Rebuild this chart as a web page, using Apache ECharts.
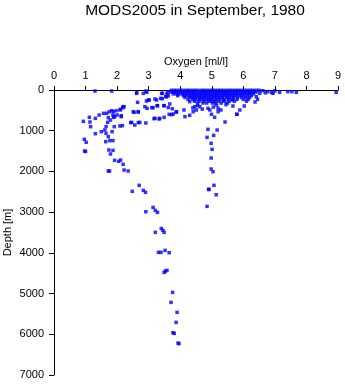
<!DOCTYPE html>
<html>
<head>
<meta charset="utf-8">
<script src="https://cdn.jsdelivr.net/npm/echarts@6/dist/echarts.min.js"></script>
<style>html,body{margin:0;padding:0;background:#fff}#chart{width:345px;height:384px}</style>
</head>
<body>
<div id="chart"></div>
<script>
// Oxygen profile observations, [oxygen ml/l, depth m]
var titleText = 'MODS2005 in September, 1980';
var xName = 'Oxygen [ml/l]';
var yName = 'Depth [m]';
var xTicks = [0, 1, 2, 3, 4, 5, 6, 7, 8, 9];
var yTicks = [0, 1000, 2000, 3000, 4000, 5000, 6000, 7000];

// surface mixed layer, rows by depth
var surfaceRows = [
  [8,   [3.72, 3.81, 3.9, 4.0, 4.09, 4.19, 4.27, 4.37, 4.46, 4.55, 4.66, 4.74, 4.83, 4.93, 5.02, 5.11, 5.21, 5.29, 5.38, 5.48, 5.57, 5.66, 5.75, 5.84, 5.94, 6.03, 6.12, 6.22, 6.31, 6.41, 6.5]],
  [50,  [3.6, 3.7, 3.79, 3.88, 3.98, 4.07, 4.16, 4.26, 4.35, 4.44, 4.53, 4.63, 4.72, 4.81, 4.91, 5.0, 5.09, 5.18, 5.28, 5.37, 5.46, 5.55, 5.65, 5.74, 5.83, 5.93, 6.02, 6.11, 6.2, 6.3, 6.4]],
  [95,  [3.58, 3.78, 3.87, 3.96, 4.06, 4.15, 4.24, 4.34, 4.43, 4.52, 4.61, 4.71, 4.8, 4.89, 4.98, 5.08, 5.17, 5.26, 5.36, 5.45, 5.54, 5.63, 5.73, 5.82, 5.91, 6.01, 6.1, 6.2, 6.32]],
  [140, [3.62, 3.92, 4.1, 4.21, 4.3, 4.4, 4.49, 4.58, 4.68, 4.77, 4.86, 4.96, 5.05, 5.14, 5.23, 5.33, 5.42, 5.51, 5.61, 5.7, 5.79, 5.9, 6.0, 6.12, 6.25]],
  [185, [4.15, 4.3, 4.39, 4.48, 4.6, 4.69, 4.78, 4.88, 4.97, 5.06, 5.16, 5.25, 5.34, 5.47, 5.56, 5.68, 5.82, 5.95, 6.08, 6.2]],
  [230, [4.25, 4.4, 4.5, 4.62, 4.72, 4.83, 4.92, 5.01, 5.13, 5.24, 5.38, 5.52, 5.66, 5.8, 6.0, 6.15]],
  [275, [4.45, 4.6, 4.75, 4.9, 4.99, 5.1, 5.22, 5.4, 5.55, 5.72, 6.1]],
  [320, [4.55, 4.72, 4.84, 5.02, 5.12, 5.3, 5.5]]
];

// scattered upper-ocean casts
var upperPoints = [
  [1.3, 25], [1.83, 25], [2.62, 57], [2.94, 57], [2.62, 82], [2.83, 82], [2.91, 25],
  [2.65, 303], [2.93, 270], [2.99, 246], [3.02, 246], [3.2, 221], [3.38, 205], [3.44, 82],
  [3.57, 164], [3.41, 82], [3.54, 164], [3.43, 213], [3.25, 246], [2.95, 451], [3.14, 434],
  [3.28, 385], [3.48, 385], [3.67, 344], [3.27, 385], [3.49, 385],
  [2.18, 434], [2.22, 410], [2.09, 491], [1.88, 533], [1.67, 573], [1.72, 680], [1.92, 655],
  [2.13, 655], [2.51, 533], [2.67, 533], [2.88, 410], [3.1, 434], [2.46, 795], [2.72, 795],
  [3.2, 696], [3.35, 696], [2.09, 884], [2.17, 876], [2.43, 801], [2.56, 860], [2.67, 801],
  [2.54, 548], [2.67, 540], [2.91, 810], [3.17, 704], [3.33, 713], [3.49, 671], [3.65, 597],
  [3.72, 606], [3.78, 590], [3.88, 540], [3.88, 533], [4.12, 491], [4.15, 655], [4.3, 622],
  [4.41, 533], [4.3, 287], [4.46, 410], [4.51, 491], [4.62, 410], [4.88, 451], [5.15, 369],
  [5.36, 246], [5.65, 246], [3.62, 430], [3.75, 460], [4.55, 380], [4.7, 470], [5.05, 420],
  [5.2, 450], [5.45, 360], [4.4, 440]
];

// low-oxygen branch reaching the deep basin
var deepPoints = [
  [0.93, 770], [1.12, 670], [1.14, 786], [1.16, 900], [0.96, 1211], [1.02, 1285], [0.97, 1500],
  [1.0, 1510], [1.31, 696], [1.43, 614], [1.57, 573], [1.31, 1073], [1.5, 1024], [1.61, 983],
  [1.65, 900], [1.7, 795], [1.75, 533], [1.83, 508], [1.79, 737], [1.89, 671], [1.87, 614],
  [1.97, 508], [2.0, 614], [2.11, 475], [2.19, 410], [2.13, 631], [1.91, 900], [1.84, 1024],
  [1.65, 1065], [1.72, 1147], [1.64, 1269], [1.77, 1243], [1.87, 1243], [1.74, 1474],
  [1.87, 1483], [1.79, 1573], [1.92, 1728], [2.05, 1752], [2.11, 1720], [2.19, 1826],
  [1.72, 1990], [1.76, 1990], [2.22, 1966], [2.35, 1990], [2.48, 2490], [2.7, 2342],
  [2.83, 2465], [2.9, 2514], [3.14, 2883], [3.21, 2957], [3.28, 3006], [2.91, 2990],
  [3.4, 3400], [3.45, 3448], [3.49, 3497], [3.21, 3497], [3.31, 3988], [3.39, 3988],
  [3.52, 3939], [3.65, 3997], [3.49, 4480], [3.53, 4447], [3.58, 4431], [3.76, 4971],
  [3.71, 5216], [3.9, 5462], [3.87, 5708], [3.77, 5962], [3.81, 5978], [3.93, 6216], [3.96, 6230]
];

// second branch near 5 ml/l
var midPoints = [
  [5.42, 786], [5.17, 983], [5.06, 1114], [4.88, 966], [4.85, 1163], [4.98, 1310], [5.01, 1458],
  [4.98, 1671], [4.98, 1941], [5.04, 2007], [5.07, 2342], [4.91, 2441], [5.14, 2572], [4.85, 2858],
  [5.09, 671], [4.99, 597], [4.94, 491], [5.29, 491], [5.2, 533], [5.8, 597], [5.89, 491],
  [5.67, 393], [6.03, 393], [5.79, 597], [4.9, 2441]
];

// high-oxygen surface values
var highPoints = [
  [8.94, 57], [7.68, 57], [7.54, 41], [7.41, 41], [7.15, 57], [6.94, 82], [6.78, 41], [6.62, 17],
  [6.52, 82], [6.41, 164], [6.37, 295], [6.2, 82], [6.9, 60], [7.0, 20], [6.7, 70], [6.45, 230]
];

var allPoints = [];
surfaceRows.forEach(function (row) {
  row[1].forEach(function (o) { allPoints.push([o, row[0]]); });
});
allPoints = allPoints.concat(upperPoints, deepPoints, midPoints, highPoints);

var chart = echarts.init(document.getElementById('chart'));
var font = 'Liberation Sans, Arial, sans-serif';
chart.setOption({
  animation: false,
  backgroundColor: '#fff',
  title: {
    text: titleText, left: 190, top: -2, textAlign: 'center',
    textStyle: { fontFamily: font, fontSize: 15.5, fontWeight: 'normal', color: '#000' }
  },
  grid: { left: 54, top: 90, right: 7, bottom: 9, containLabel: false, outerBoundsMode: 'none' },
  xAxis: {
    type: 'value', position: 'top', min: 0, max: 9, interval: 1,
    name: xName, nameLocation: 'middle', nameGap: 23, nameMoveOverlap: false,
    nameTextStyle: { fontFamily: font, fontSize: 11, color: '#000' },
    axisLine: { lineStyle: { color: '#000', width: 1 } },
    axisTick: { length: 4, lineStyle: { color: '#000' } },
    axisLabel: { fontFamily: font, fontSize: 11, color: '#000', margin: 9,
      formatter: function (v) { return String(v); } },
    splitLine: { show: false }
  },
  yAxis: {
    type: 'value', inverse: true, min: 0, max: 7000, interval: 1000,
    name: yName, nameLocation: 'middle', nameGap: 41, nameRotate: 90, nameMoveOverlap: false,
    nameTextStyle: { fontFamily: font, fontSize: 11, color: '#000' },
    axisLine: { show: true, lineStyle: { color: '#000', width: 1 } },
    axisTick: { show: true, length: 5, lineStyle: { color: '#000' } },
    axisLabel: { fontFamily: font, fontSize: 11, color: '#000', margin: 10,
      formatter: function (v) { return String(v); } },
    splitLine: { show: false }
  },
  series: [{
    type: 'scatter', data: allPoints, symbol: 'rect', symbolSize: 3.5,
    itemStyle: { color: '#0000ff' }
  }]
});
</script>
</body>
</html>
